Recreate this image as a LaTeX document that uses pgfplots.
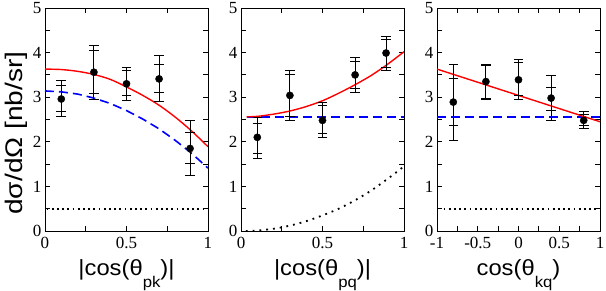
\documentclass[border=0pt]{standalone}
\usepackage{pgfplots}
\pgfplotsset{compat=1.18}
\usepackage{fontspec}
\setmainfont{Liberation Serif}
\newfontfamily\tickfont{Liberation Serif}
\newfontfamily\labfont[FakeStretch=1.08]{Liberation Sans}
\newfontfamily\ylabfont[FakeStretch=1.17]{Liberation Sans}
\definecolor{myred}{RGB}{255,0,0}
\definecolor{myblue}{RGB}{0,0,255}
\newcommand{\tl}[1]{{\tickfont\fontsize{17}{17}\selectfont #1}}
\begin{document}
\begin{tikzpicture}
\useasboundingbox (0,0) rectangle (606pt,291pt);
\pgfplotsset{
  panel/.style={
    scale only axis, width=163pt, height=223pt, anchor=south west,
    ymin=0, ymax=5, ytick={0,1,2,3,4,5}, minor ytick={0.5,1.5,2.5,3.5,4.5},
    yticklabels={\tl{0},\tl{1},\tl{2},\tl{3},\tl{4},\tl{5}},
    tick align=inside, major tick length=5pt, minor tick length=5pt,
    axis line style={line width=0.9pt}, tick style={line width=0.9pt, black},
    every tick label/.append style={font=\tickfont\fontsize{17}{17}\selectfont},
    xticklabel style={inner sep=1pt, yshift=-4.7pt},
    /pgf/number format/assume math mode=true,
    clip mode=individual,
    xlabel style={at={(axis description cs:0.5,-0.2018)}, anchor=base, font=\labfont\fontsize{22}{22}\selectfont},
  },
  outer/.style={black, line width=0.9pt, forget plot, draw=none, no marks,
    error bars/.cd, y dir=both, y explicit,
    error bar style={line width=0.9pt, black, draw},
    error mark options={rotate=90, mark size=4.8pt, line width=0.9pt, black, draw}},
  pts/.style={only marks, mark=*, mark size=3.6pt, black, forget plot},
  redl/.style={draw=myred, line width=1.4pt, no marks},
  bluel/.style={draw=myblue, line width=1.6pt, dash pattern=on 9pt off 5pt, no marks},
  dotl/.style={draw=black, line width=2pt, dash pattern=on 1.8pt off 3.4pt, no marks},
}
% Panel 1
\begin{axis}[panel, at={(45pt,60pt)}, xmin=0, xmax=1,
  xtick={0,0.5,1}, xticklabels={\tl{0},\tl{0.5},\tl{1}}, minor xtick={0.25,0.75},
  ylabel={dσ/dΩ [nb/sr]},
  ylabel style={at={(axis description cs:-0.138,0.439)}, anchor=base, font=\ylabfont\fontsize{24}{24}\selectfont},
  xlabel={|cos(θ\raisebox{-12pt}{\fontsize{15.5}{15.5}\selectfont pk})|},
]
\addplot[dotl] coordinates {(0.01,0.5) (1,0.5)};
\addplot[bluel] coordinates {(0,3.14) (0.1,3.12) (0.2,3.07) (0.3,2.98) (0.4,2.86) (0.5,2.70) (0.6,2.51) (0.7,2.29) (0.8,2.03) (0.9,1.74) (1.0,1.41)};
\addplot[redl, smooth] coordinates {(0,3.63) (0.1,3.62) (0.2,3.58) (0.3,3.51) (0.4,3.40) (0.5,3.23) (0.6,3.04) (0.7,2.82) (0.8,2.55) (0.9,2.24) (1.0,1.89)};
\addplot[outer] coordinates {
 (0.1,2.96) += (0,0.41) -= (0,0.39)
 (0.3,3.56) += (0,0.60) -= (0,0.60)
 (0.5,3.30) += (0,0.37) -= (0,0.37)
 (0.7,3.41) += (0,0.53) -= (0,0.51)
 (0.89,1.85) += (0,0.62) -= (0,0.60)};
\addplot[outer] coordinates {
 (0.1,2.96) += (0,0.30) -= (0,0.29)
 (0.3,3.56) += (0,0.49) -= (0,0.47)
 (0.5,3.30) += (0,0.29) -= (0,0.27)
 (0.7,3.41) += (0,0.33) -= (0,0.31)
 (0.89,1.85) += (0,0.35) -= (0,0.33)};
\addplot[pts] coordinates {(0.1,2.96) (0.3,3.56) (0.5,3.30) (0.7,3.41) (0.89,1.85)};
\end{axis}
% Panel 2
\begin{axis}[panel, at={(241pt,60pt)}, xmin=0, xmax=1,
  xtick={0,0.5,1}, xticklabels={\tl{0},\tl{0.5},\tl{1}}, minor xtick={0.25,0.75},
  xlabel={|cos(θ\raisebox{-12pt}{\fontsize{15.5}{15.5}\selectfont pq})|},
]
\addplot[dotl, line width=1.8pt, dash pattern=on 1.8pt off 5pt, smooth] coordinates {(0.03,0.0) (0.1,0.01) (0.2,0.05) (0.3,0.12) (0.4,0.22) (0.5,0.35) (0.6,0.50) (0.7,0.69) (0.8,0.91) (0.9,1.17) (1.0,1.45)};
\addplot[bluel] coordinates {(0.035,2.55) (1,2.55)};
\addplot[redl, smooth] coordinates {(0.035,2.56) (0.1,2.57) (0.2,2.62) (0.3,2.69) (0.4,2.79) (0.5,2.92) (0.6,3.09) (0.7,3.28) (0.8,3.49) (0.9,3.74) (1.0,4.02)};
\addplot[outer] coordinates {
 (0.1,2.10) += (0,0.45) -= (0,0.48)
 (0.3,3.04) += (0,0.55) -= (0,0.57)
 (0.5,2.48) += (0,0.41) -= (0,0.39)
 (0.7,3.50) += (0,0.39) -= (0,0.39)
 (0.89,3.99) += (0,0.38) -= (0,0.40)};
\addplot[outer] coordinates {
 (0.1,2.10) += (0,0.32) -= (0,0.36)
 (0.3,3.04) += (0,0.46) -= (0,0.48)
 (0.5,2.48) += (0,0.33) -= (0,0.29)
 (0.7,3.50) += (0,0.31) -= (0,0.31)
 (0.89,3.99) += (0,0.31) -= (0,0.32)};
\addplot[pts] coordinates {(0.1,2.10) (0.3,3.04) (0.5,2.48) (0.7,3.50) (0.89,3.99)};
\end{axis}
% Panel 3
\begin{axis}[panel, at={(437pt,60pt)}, xmin=-1, xmax=1,
  xtick={-1,-0.5,0,0.5,1}, xticklabels={\tl{-1},\tl{-0.5},\tl{0},\tl{0.5},\tl{1}}, minor xtick={-0.75,-0.25,0.25,0.75},
  xlabel={cos(θ\raisebox{-12pt}{\fontsize{15.5}{15.5}\selectfont kq})},
]
\addplot[dotl] coordinates {(-0.92,0.5) (0.98,0.5)};
\addplot[bluel] coordinates {(-1,2.55) (1,2.55)};
\addplot[redl] coordinates {(-1,3.63) (1,2.45)};
\addplot[outer] coordinates {
 (-0.8,2.89) += (0,0.85) -= (0,0.86)
 (-0.4,3.35) += (0,0.39) -= (0,0.39)
 (0,3.39) += (0,0.46) -= (0,0.45)
 (0.4,2.98) += (0,0.50) -= (0,0.50)
 (0.8,2.48) += (0,0.20) -= (0,0.19)};
\addplot[outer] coordinates {
 (-0.8,2.89) += (0,0.52) -= (0,0.52)
 (-0.4,3.35) += (0,0.37) -= (0,0.37)
 (0,3.39) += (0,0.39) -= (0,0.35)
 (0.4,2.98) += (0,0.24) -= (0,0.28)
 (0.8,2.48) += (0,0.14) -= (0,0.12)};
\addplot[pts] coordinates {(-0.8,2.89) (-0.4,3.35) (0,3.39) (0.4,2.98) (0.8,2.48)};
\end{axis}
\end{tikzpicture}
\end{document}
